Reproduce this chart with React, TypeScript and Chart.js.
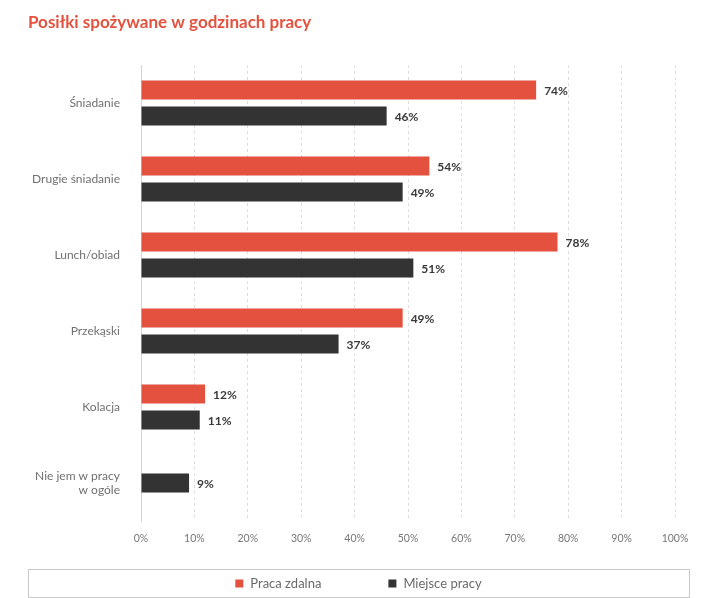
import React, { useEffect, useRef } from "react";
import { Chart, registerables } from "chart.js";

Chart.register(...registerables);

// Meal categories (the last one wraps onto two lines)
const categories: (string | string[])[] = [
  "Śniadanie",
  "Drugie śniadanie",
  "Lunch/obiad",
  "Przekąski",
  "Kolacja",
  ["Nie jem w pracy", "w ogóle"],
];

// Share of respondents, in percent
const remoteWork: (number | null)[] = [74, 54, 78, 49, 12, null];
const officeWork: (number | null)[] = [46, 49, 51, 37, 11, 9];

const seriesNames = ["Praca zdalna", "Miejsce pracy"];
const seriesColors = ["#E4523F", "#333333"];

const title = "Posiłki spożywane w godzinach pracy";
const FONT = "Lato, 'Open Sans', sans-serif";

// Percentage labels printed just past the end of each bar
const valueLabels = {
  id: "valueLabels",
  afterDatasetsDraw(chart: any) {
    const { ctx } = chart;
    ctx.save();
    ctx.font = `bold 12px ${FONT}`;
    ctx.fillStyle = "#3a3a3a";
    ctx.textAlign = "left";
    ctx.textBaseline = "middle";
    chart.data.datasets.forEach((ds: any, i: number) => {
      const meta = chart.getDatasetMeta(i);
      meta.data.forEach((bar: any, j: number) => {
        const v = ds.data[j];
        if (v === null || v === undefined) return;
        ctx.fillText(`${v}%`, bar.x + 8, bar.y + 1);
      });
    });
    ctx.restore();
  },
};

// Boxed legend along the bottom edge
const boxedLegend = {
  id: "boxedLegend",
  afterDraw(chart: any) {
    const { ctx } = chart;
    const boxLeft = 28;
    const boxRight = 689;
    const boxTop = 569;
    const boxBottom = 597;
    ctx.save();
    ctx.strokeStyle = "#c9c9c9";
    ctx.lineWidth = 1;
    ctx.strokeRect(boxLeft + 0.5, boxTop + 0.5, boxRight - boxLeft, boxBottom - boxTop);

    ctx.font = `13px ${FONT}`;
    ctx.textBaseline = "middle";
    ctx.textAlign = "left";
    const square = 8;
    const gapText = 7;
    const gapItem = 67;
    const widths = chart.data.datasets.map(
      (ds: any) => square + gapText + ctx.measureText(ds.label).width
    );
    const total = widths.reduce((a: number, b: number) => a + b, 0) + gapItem * (widths.length - 1);
    let x = (boxLeft + boxRight) / 2 - total / 2;
    const cy = (boxTop + boxBottom) / 2 + 0.5;
    chart.data.datasets.forEach((ds: any, i: number) => {
      ctx.fillStyle = ds.backgroundColor;
      ctx.fillRect(x, cy - square / 2, square, square);
      ctx.fillStyle = "#6a6a6a";
      ctx.fillText(ds.label, x + square + gapText, cy);
      x += widths[i] + gapItem;
    });
    ctx.restore();
  },
};

export default function App() {
  const canvasRef = useRef<HTMLCanvasElement | null>(null);

  useEffect(() => {
    if (!canvasRef.current) return;
    const chart = new Chart(canvasRef.current, {
      type: "bar",
      data: {
        labels: categories,
        datasets: [
          {
            label: seriesNames[0],
            data: remoteWork,
            backgroundColor: seriesColors[0],
          },
          {
            label: seriesNames[1],
            data: officeWork,
            backgroundColor: seriesColors[1],
          },
        ],
      },
      options: {
        indexAxis: "y",
        responsive: false,
        animation: false,
        skipNull: true,
        categoryPercentage: 0.684,
        barPercentage: 0.73,
        maxBarThickness: 19,
        layout: { padding: { left: 28, right: 29, top: 0, bottom: 47 } },
        plugins: {
          legend: { display: false },
          tooltip: { enabled: false },
          title: {
            display: true,
            text: title,
            align: "start",
            color: "#E4523F",
            font: { family: FONT, size: 17, weight: "bold", lineHeight: 1.2 },
            padding: { top: 12, bottom: 32.6 },
          },
        },
        scales: {
          x: {
            min: 0,
            max: 100,
            ticks: {
              stepSize: 10,
              color: "#777777",
              font: { family: FONT, size: 10.5 },
              padding: 11,
              callback: (v: any) => `${v}%`,
            },
            grid: { color: "#dedede", drawTicks: false },
            border: { display: false, dash: [3, 3] },
            afterFit: (scale: any) => {
              scale.height = 30;
            },
          },
          y: {
            ticks: {
              color: "#707070",
              font: { family: FONT, size: 12 },
              padding: 21,
            },
            grid: { display: false, drawTicks: false },
            border: { display: true, color: "#d4d4d4", width: 1 },
            afterFit: (scale: any) => {
              scale.width = 113;
            },
          },
        },
      } as any,
      plugins: [valueLabels, boxedLegend],
    });
    return () => chart.destroy();
  }, []);

  return (
    <div style={{ position: "absolute", left: 0, top: 0, width: 704, height: 598, background: "#ffffff" }}>
      <canvas ref={canvasRef} width={704} height={598} style={{ display: "block" }} />
    </div>
  );
}
